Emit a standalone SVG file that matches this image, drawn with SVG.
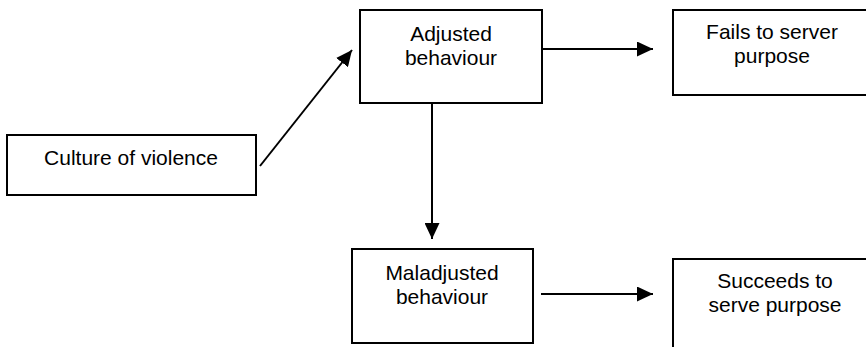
<svg xmlns="http://www.w3.org/2000/svg" width="866" height="347" viewBox="0 0 866 347">
<defs>
<marker id="ah" markerUnits="userSpaceOnUse" markerWidth="16" markerHeight="15" refX="16" refY="7.5" orient="auto" viewBox="0 0 16 15">
<path d="M0,0 L16,7.5 L0,15 z" fill="#000"/>
</marker>
<style>
.box{fill:#fff;stroke:#000;stroke-width:2}
.t{font-family:"Liberation Sans",Arial,sans-serif;font-size:21px;fill:#000;text-anchor:middle}
.c{stroke:#000;stroke-width:2;fill:none;marker-end:url(#ah)}
</style>
</defs>
<rect width="866" height="347" fill="#fff"/>
<g id="culture">
<rect class="box" x="7" y="135" width="249" height="60"/>
<text class="t" x="131" y="165">Culture of violence</text>
</g>
<g id="adjusted">
<rect class="box" x="360" y="10" width="182" height="93"/>
<text class="t" x="451" y="41">Adjusted</text>
<text class="t" x="451" y="65">behaviour</text>
</g>
<g id="fails">
<rect class="box" x="673" y="10" width="198" height="85"/>
<text class="t" x="772" y="39">Fails to server</text>
<text class="t" x="772" y="63">purpose</text>
</g>
<g id="maladjusted">
<rect class="box" x="352" y="249" width="181" height="94"/>
<text class="t" x="442" y="280">Maladjusted</text>
<text class="t" x="442" y="304">behaviour</text>
</g>
<g id="succeeds">
<rect class="box" x="673" y="259" width="202" height="100"/>
<text class="t" x="775" y="288">Succeeds to</text>
<text class="t" x="775" y="312">serve purpose</text>
</g>
<g id="connectors">
<line class="c" x1="260" y1="166" x2="352" y2="50"/>
<line class="c" x1="542" y1="49" x2="653" y2="49"/>
<line class="c" x1="432" y1="103" x2="432" y2="239"/>
<line class="c" x1="541" y1="294" x2="653" y2="294"/>
</g>
</svg>
